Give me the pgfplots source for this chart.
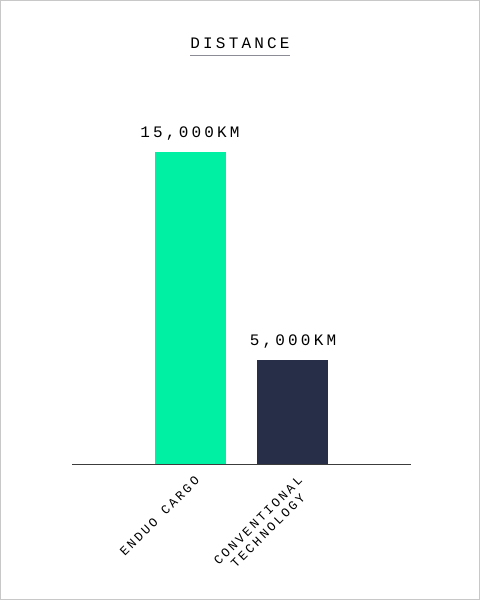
\documentclass[border=0pt]{standalone}
\usepackage{fontspec}
\setmainfont{Liberation Mono}[LetterSpace=20]
\usepackage{pgfplots}
\pgfplotsset{compat=1.18}

\definecolor{bargreen}{RGB}{0,240,163}
\definecolor{barnavy}{RGB}{38,46,72}
\definecolor{framegray}{RGB}{200,200,200}
\definecolor{axisgray}{RGB}{60,60,60}
\definecolor{rulegray}{RGB}{140,140,150}

\begin{document}
\begin{tikzpicture}
% page frame, 480x600 px at 0.75pt per px
\draw[framegray, line width=0.75pt] (0.375pt,-0.375pt) rectangle (359.625pt,-449.625pt);
\node[font=\fontsize{12}{14}\selectfont, inner sep=0pt] at (180pt,-32.6pt) {DISTANCE};
\draw[rulegray, line width=0.6pt] (142.5pt,-41.25pt) -- (217.5pt,-41.25pt);

\begin{axis}[
  at={(54pt,-348pt)}, anchor=south west,
  scale only axis, width=254.25pt, height=280.8pt,
  xmin=-1.146, xmax=2.146, ymin=0, ymax=18000,
  axis x line*=bottom, axis y line=none,
  x axis line style={axisgray, line width=0.75pt},
  ybar, bar width=53.25pt,
  xtick={0,1}, major tick length=0pt,
  xticklabels={ENDUO CARGO,{CONVENTIONAL\\TECHNOLOGY}},
  xticklabel style={xshift=3pt, yshift=-7pt, rotate=45, anchor=north east, align=center,
    font=\fontsize{9.5}{10.5}\selectfont, inner sep=1pt},
  point meta=explicit symbolic,
  nodes near coords,
  every node near coord/.append style={font=\fontsize{12}{14}\selectfont,
    anchor=base, inner sep=0pt, yshift=11.25pt},
]
\addplot[draw=none, fill=bargreen, bar shift=0pt] coordinates {(0,15000) [15,000KM]};
\addplot[draw=none, fill=barnavy, bar shift=0pt] coordinates {(1,5000) [5,000KM]};
\end{axis}
\end{tikzpicture}
\end{document}
